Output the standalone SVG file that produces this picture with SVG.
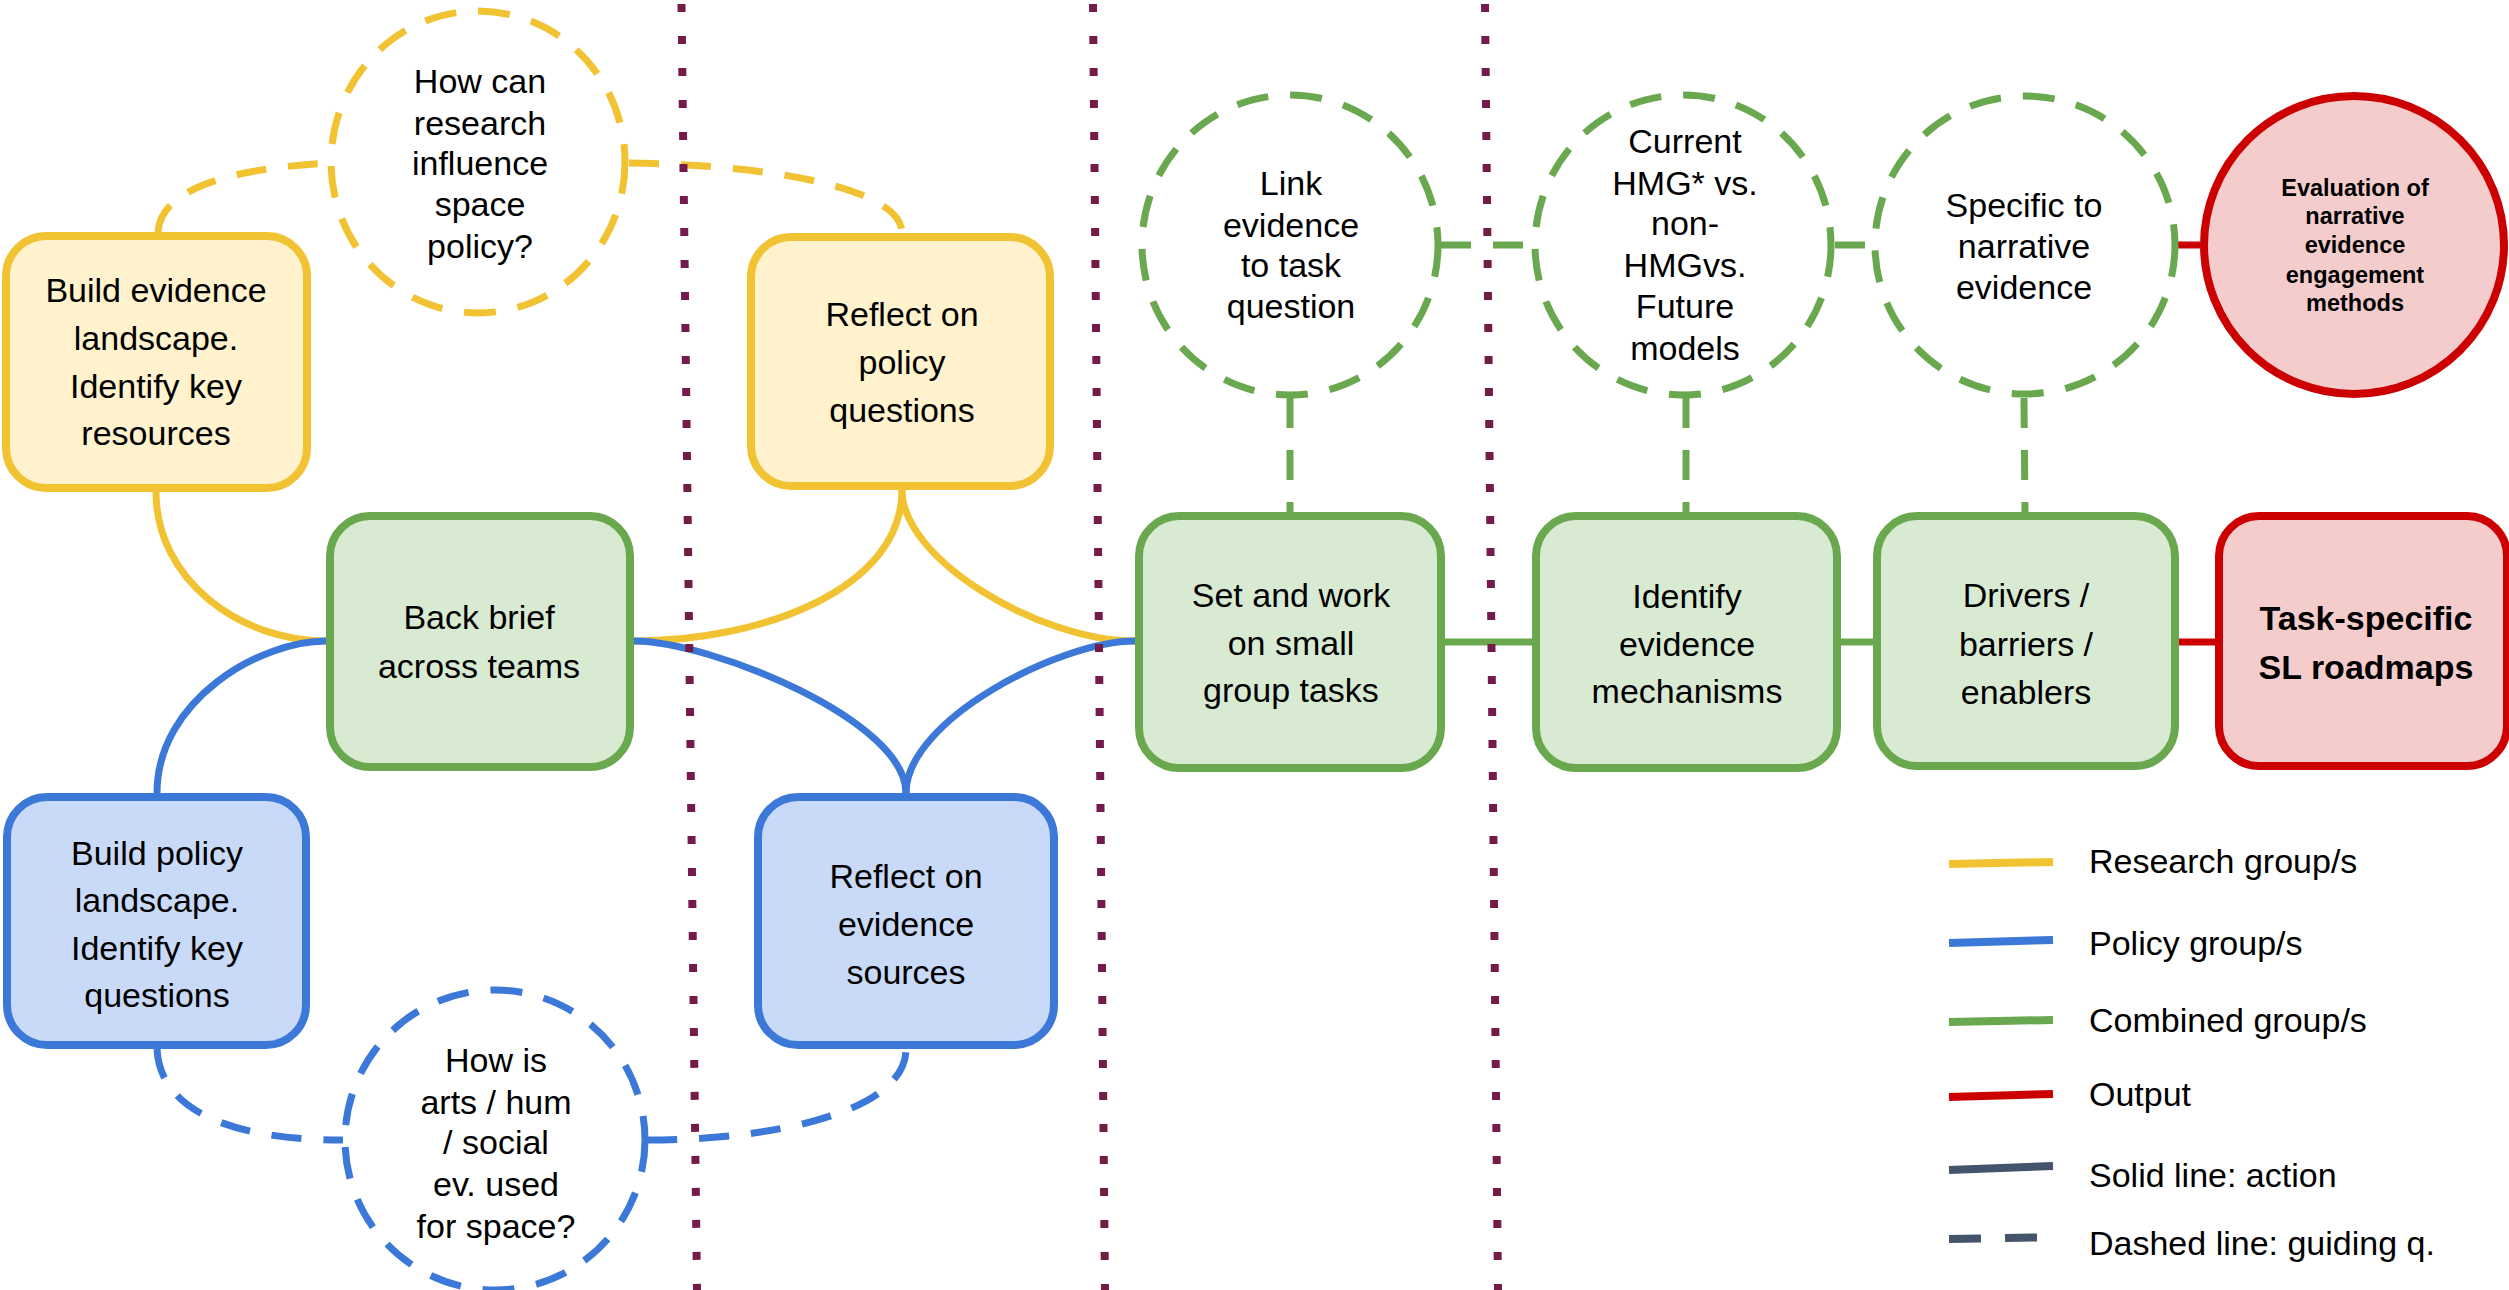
<svg xmlns="http://www.w3.org/2000/svg" width="2509" height="1290" viewBox="0 0 2509 1290">
<style>
text{font-family:"Liberation Sans",Arial,Helvetica,sans-serif;font-size:34px;fill:#000;text-anchor:middle}
.box{stroke-width:8}
.y{fill:#fff2cc;stroke:#f1c232}
.g{fill:#d9ead3;stroke:#6aa84f}
.b{fill:#c9daf8;stroke:#3c78d8}
.r{fill:#f4cccc;stroke:#cc0000}
.q{fill:none;stroke-width:7;stroke-dasharray:32 22}
.qy{stroke:#f1c232}.qg{stroke:#6aa84f}.qb{stroke:#3c78d8}
.c{fill:none;stroke-width:7}
.cy{stroke:#f1c232}.cb{stroke:#3c78d8}.cg{stroke:#6aa84f}.cr{stroke:#cc0000}
.d{stroke-dasharray:30 22}
.dot{stroke:#741b47;stroke-width:8;stroke-dasharray:8 24;fill:none}
.lg{stroke-width:8;fill:none}
.lt{text-anchor:start}
.bold{font-weight:bold}
</style>

<g id="connectors">
  <path class="c cy" d="M156,492 C156,580 240,641 326,641"/>
  <path class="c cy" d="M902,490 C902,590 760,641 634,641"/>
  <path class="c cy" d="M902,490 C902,560 1040,641 1135,641"/>
  <path class="c cb" d="M326,641 C260,641 157,700 157,793"/>
  <path class="c cb" d="M634,641 C710,641 906,720 906,793"/>
  <path class="c cb" d="M906,793 C906,720 1060,641 1135,641"/>
  <path class="c cg" d="M1445,642 L1532,642"/>
  <path class="c cg" d="M1841,642 L1873,642"/>
  <path class="c cr" d="M2179,642 L2215,642"/>
  <path class="c cr" d="M2178,245 L2200,245"/>
  <path class="c cy d" d="M158,232 C160,200 200,170 330,163"/>
  <path class="c cy d" d="M629,163 C780,165 902,190 902,233"/>
  <path class="c cb d" d="M157,1049 C160,1110 230,1140 343,1140"/>
  <path class="c cb d" d="M647,1140 C780,1140 906,1110 906,1049"/>
  <path class="c cg d" d="M1290,398 L1290,512"/>
  <path class="c cg d" d="M1686,398 L1686,512"/>
  <path class="c cg d" d="M2024,398 L2025,514"/>
  <path class="c cg d" d="M1441,245 L1531,245"/>
  <path class="c cg d" d="M1835,245 L1871,245"/>
</g>

<g id="dividers">
  <line class="dot" x1="681.5" y1="4" x2="697" y2="1290"/>
  <line class="dot" x1="1093" y1="4" x2="1105" y2="1290"/>
  <line class="dot" x1="1485" y1="4" x2="1498" y2="1290"/>
</g>

<g id="build-evidence">
  <rect class="box y" x="6" y="236" width="301" height="252" rx="40"/>
  <text><tspan x="156" y="302">Build evidence</tspan><tspan x="156" y="350">landscape.</tspan><tspan x="156" y="398">Identify key</tspan><tspan x="156" y="445">resources</tspan></text>
</g>

<g id="q-research">
  <ellipse class="q qy" cx="478" cy="162" rx="147" ry="151"/>
  <text><tspan x="480" y="93">How can</tspan><tspan x="480" y="135">research</tspan><tspan x="480" y="175">influence</tspan><tspan x="480" y="216">space</tspan><tspan x="480" y="258">policy?</tspan></text>
</g>

<g id="reflect-policy">
  <rect class="box y" x="751" y="237" width="299" height="249" rx="40"/>
  <text><tspan x="902" y="326">Reflect on</tspan><tspan x="902" y="374">policy</tspan><tspan x="902" y="422">questions</tspan></text>
</g>

<g id="back-brief">
  <rect class="box g" x="330" y="516" width="300" height="251" rx="40"/>
  <text><tspan x="479" y="629">Back brief</tspan><tspan x="479" y="678">across teams</tspan></text>
</g>

<g id="build-policy">
  <rect class="box b" x="7" y="797" width="299" height="248" rx="40"/>
  <text><tspan x="157" y="865">Build policy</tspan><tspan x="157" y="912">landscape.</tspan><tspan x="157" y="960">Identify key</tspan><tspan x="157" y="1007">questions</tspan></text>
</g>

<g id="reflect-evidence">
  <rect class="box b" x="758" y="797" width="296" height="248" rx="40"/>
  <text><tspan x="906" y="888">Reflect on</tspan><tspan x="906" y="936">evidence</tspan><tspan x="906" y="984">sources</tspan></text>
</g>

<g id="q-arts">
  <ellipse class="q qb" cx="495" cy="1140" rx="150" ry="150"/>
  <text><tspan x="496" y="1072">How is</tspan><tspan x="496" y="1114">arts / hum</tspan><tspan x="496" y="1154">/ social</tspan><tspan x="496" y="1196">ev. used</tspan><tspan x="496" y="1238">for space?</tspan></text>
</g>

<g id="set-work">
  <rect class="box g" x="1139" y="516" width="302" height="252" rx="40"/>
  <text><tspan x="1291" y="607">Set and work</tspan><tspan x="1291" y="655">on small</tspan><tspan x="1291" y="702">group tasks</tspan></text>
</g>

<g id="q-link">
  <ellipse class="q qg" cx="1290" cy="245" rx="148" ry="150"/>
  <text><tspan x="1291" y="195">Link</tspan><tspan x="1291" y="237">evidence</tspan><tspan x="1291" y="277">to task</tspan><tspan x="1291" y="318">question</tspan></text>
</g>

<g id="identify-mechanisms">
  <rect class="box g" x="1536" y="516" width="301" height="252" rx="40"/>
  <text><tspan x="1687" y="608">Identify</tspan><tspan x="1687" y="656">evidence</tspan><tspan x="1687" y="703">mechanisms</tspan></text>
</g>

<g id="q-current">
  <ellipse class="q qg" cx="1683" cy="245" rx="148" ry="150"/>
  <text><tspan x="1685" y="153">Current</tspan><tspan x="1685" y="195">HMG* vs.</tspan><tspan x="1685" y="235">non-</tspan><tspan x="1685" y="277">HMGvs.</tspan><tspan x="1685" y="318">Future</tspan><tspan x="1685" y="360">models</tspan></text>
</g>

<g id="drivers">
  <rect class="box g" x="1877" y="516" width="298" height="250" rx="40"/>
  <text><tspan x="2026" y="607">Drivers /</tspan><tspan x="2026" y="656">barriers /</tspan><tspan x="2026" y="704">enablers</tspan></text>
</g>

<g id="q-specific">
  <ellipse class="q qg" cx="2025" cy="245" rx="150" ry="149"/>
  <text><tspan x="2024" y="217">Specific to</tspan><tspan x="2024" y="258">narrative</tspan><tspan x="2024" y="299">evidence</tspan></text>
</g>

<g id="task-roadmaps">
  <rect class="box r" x="2219" y="516" width="288" height="250" rx="40"/>
  <text class="bold"><tspan x="2366" y="630">Task-specific</tspan><tspan x="2366" y="679">SL roadmaps</tspan></text>
</g>

<g id="evaluation">
  <ellipse class="box r" cx="2354" cy="245" rx="150" ry="149"/>
  <text class="bold" style="font-size:23.5px"><tspan x="2355" y="196">Evaluation of</tspan><tspan x="2355" y="224">narrative</tspan><tspan x="2355" y="253">evidence</tspan><tspan x="2355" y="283">engagement</tspan><tspan x="2355" y="311">methods</tspan></text>
</g>

<g id="legend">
  <line class="lg" x1="1949" y1="864" x2="2053" y2="862" stroke="#f1c232"/>
  <text class="lt" x="2089" y="873">Research group/s</text>
  <line class="lg" x1="1949" y1="943" x2="2053" y2="940" stroke="#3c78d8"/>
  <text class="lt" x="2089" y="955">Policy group/s</text>
  <line class="lg" x1="1949" y1="1022" x2="2053" y2="1020" stroke="#6aa84f"/>
  <text class="lt" x="2089" y="1032">Combined group/s</text>
  <line class="lg" x1="1949" y1="1097" x2="2053" y2="1094" stroke="#cc0000"/>
  <text class="lt" x="2089" y="1106">Output</text>
  <line class="lg" x1="1949" y1="1170" x2="2053" y2="1166" stroke="#44546a"/>
  <text class="lt" x="2089" y="1187">Solid line: action</text>
  <line class="lg" x1="1949" y1="1239" x2="1981" y2="1238.5" stroke="#44546a"/>
  <line class="lg" x1="2005" y1="1238" x2="2037" y2="1237.5" stroke="#44546a"/>
  <text class="lt" x="2089" y="1255">Dashed line: guiding q.</text>
</g>
</svg>
